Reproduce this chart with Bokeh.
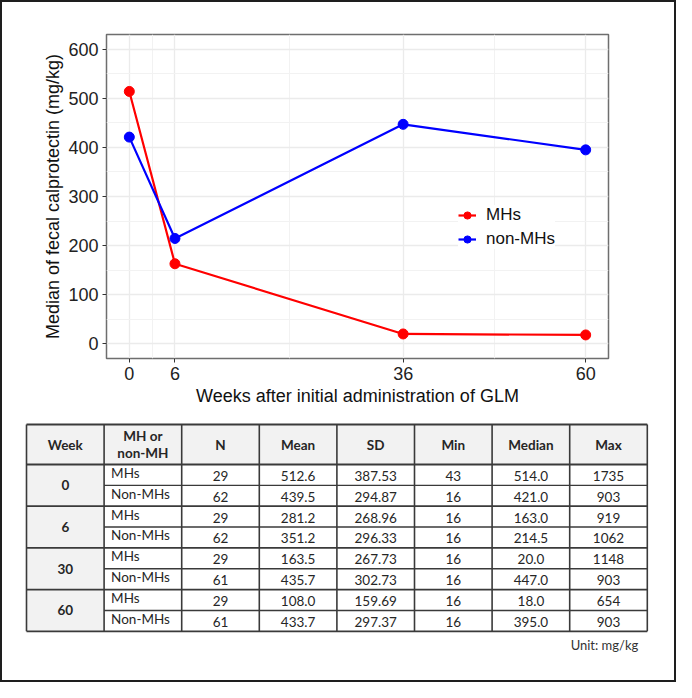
from bokeh.plotting import figure
from bokeh.models import Range1d, FixedTicker
from bokeh.layouts import column
from bokeh.core.properties import value
from bokeh.embed import file_html
from bokeh.resources import INLINE

# ---------------- data ----------------
weeks = [0, 6, 36, 60]
mh_median = [514.0, 163.0, 20.0, 18.0]
non_mh_median = [421.0, 214.5, 447.0, 395.0]
x_ticks = [0, 6, 36, 60]
y_ticks = [0, 100, 200, 300, 400, 500, 600]

table_header = ["Week", "MH or\nnon-MH", "N", "Mean", "SD", "Min", "Median", "Max"]
table_weeks = ["0", "6", "30", "60"]
table_groups = ["MHs", "Non-MHs", "MHs", "Non-MHs", "MHs", "Non-MHs", "MHs", "Non-MHs"]
n_vals = ["29", "62", "29", "62", "29", "61", "29", "61"]
mean_vals = ["512.6", "439.5", "281.2", "351.2", "163.5", "435.7", "108.0", "433.7"]
sd_vals = ["387.53", "294.87", "268.96", "296.33", "267.73", "302.73", "159.69", "297.37"]
min_vals = ["43", "16", "16", "16", "16", "16", "16", "16"]
median_vals = ["514.0", "421.0", "163.0", "214.5", "20.0", "447.0", "18.0", "395.0"]
max_vals = ["1735", "903", "919", "1062", "1148", "903", "654", "903"]
unit_note = "Unit: mg/kg"

FONT = "Liberation Sans"
TFONT = "Lato"

# ---------------- chart ----------------
p = figure(width=672, height=408, x_range=Range1d(-3, 63), y_range=Range1d(-30, 630),
           output_backend="svg", toolbar_location=None, frame_align=False,
           min_border_left=104, min_border_right=66, min_border_top=32, min_border_bottom=52)

p.xaxis.ticker = FixedTicker(ticks=x_ticks, minor_ticks=[3, 21, 48])
p.yaxis.ticker = FixedTicker(ticks=y_ticks, minor_ticks=[50, 150, 250, 350, 450, 550])
for g in (p.xgrid, p.ygrid):
    g.grid_line_color = "#ebebeb"
    g.grid_line_width = 1.3
    g.minor_grid_line_color = "#f2f2f2"
    g.minor_grid_line_width = 1.0
for ax in (p.xaxis, p.yaxis):
    ax.axis_line_color = None
    ax.major_tick_out = 4
    ax.major_tick_in = 0
    ax.minor_tick_out = 0
    ax.minor_tick_in = 0
    ax.major_tick_line_color = "#333333"
    ax.major_label_text_font = FONT
    ax.major_label_text_font_size = "18px"
    ax.major_label_text_color = "#222222"
    ax.major_label_standoff = 4
    ax.axis_label_text_font = FONT
    ax.axis_label_text_font_size = "18px"
    ax.axis_label_text_font_style = "normal"
    ax.axis_label_text_color = "#111111"
p.xaxis.axis_label = "Weeks after initial administration of GLM"
p.yaxis.axis_label = "Median of fecal calprotectin (mg/kg)"
p.xaxis.axis_label_standoff = 3
p.yaxis.axis_label_standoff = 2
p.outline_line_color = "#6e6e6e"
p.outline_line_width = 1.5

p.line(weeks, mh_median, line_color="#ff0000", line_width=2.2, legend_label="MHs")
p.scatter(weeks, mh_median, size=10, fill_color="#ff0000", line_color="#ff0000", legend_label="MHs")
p.line(weeks, non_mh_median, line_color="#0000ff", line_width=2.2, legend_label="non-MHs")
p.scatter(weeks, non_mh_median, size=10, fill_color="#0000ff", line_color="#0000ff", legend_label="non-MHs")

p.legend.location = (352, 109)
p.legend.border_line_color = None
p.legend.background_fill_color = "white"
p.legend.background_fill_alpha = 1
p.legend.padding = 9
p.legend.spacing = 4
p.legend.glyph_width = 18
p.legend.glyph_height = 20
p.legend.label_height = 20
p.legend.label_standoff = 10
p.legend.label_text_font = FONT
p.legend.label_text_font_size = "17px"
p.legend.label_text_color = "#111111"

# ---------------- table ----------------
t = figure(width=672, height=270, x_range=Range1d(10, 682), y_range=Range1d(688, 418),
           output_backend="svg", toolbar_location=None, min_border=0, frame_align=False,
           x_axis_type=None, y_axis_type=None)
t.grid.visible = False
t.outline_line_color = None

TL, CW, TT, HH, RH = 34.0, 77.6, 432.0, 40.0, 20.85
ncol = len(table_header)
nrow = len(table_groups)
TR = TL + ncol * CW
TB = TT + HH + nrow * RH

# backgrounds
t.quad(left=[TL], right=[TR], top=[TT], bottom=[TT + HH], fill_color="#f2f2f2", line_color=None)
t.quad(left=[TL], right=[TL + CW], top=[TT + HH], bottom=[TB], fill_color="#f2f2f2", line_color=None)

# grid lines
vx = [TL + i * CW for i in range(ncol + 1)]
t.segment(x0=vx, y0=[TT] * len(vx), x1=vx, y1=[TB] * len(vx), line_color="#3a3a3a", line_width=1.6)
full_y = [TT, TT + HH] + [TT + HH + 2 * k * RH for k in range(1, len(table_weeks) + 1)]
t.segment(x0=[TL] * len(full_y), y0=full_y, x1=[TR] * len(full_y), y1=full_y,
          line_color="#3a3a3a", line_width=1.8)
half_y = [TT + HH + (2 * k + 1) * RH for k in range(len(table_weeks))]
t.segment(x0=[TL + CW] * len(half_y), y0=half_y, x1=[TR] * len(half_y), y1=half_y,
          line_color="#3a3a3a", line_width=1.4)

# header text
t.text(x=[TL + (i + 0.5) * CW for i in range(ncol)], y=[TT + HH / 2] * ncol, text=table_header,
       text_font=value(TFONT), text_font_size="13.5px", text_font_style="bold",
       text_color="#262626", text_align="center", text_baseline="middle", text_line_height=1.1)

# week labels
t.text(x=[TL + 0.5 * CW] * len(table_weeks),
       y=[TT + HH + (2 * k + 1) * RH for k in range(len(table_weeks))], text=table_weeks,
       text_font=value(TFONT), text_font_size="13.5px", text_font_style="bold",
       text_color="#262626", text_align="center", text_baseline="middle")

# group labels
row_y = [TT + HH + (r + 0.5) * RH for r in range(nrow)]
t.text(x=[TL + CW + 7] * nrow, y=[yy - 2 for yy in row_y], text=table_groups,
       text_font=value(TFONT), text_font_size="13.5px",
       text_color="#262626", text_align="left", text_baseline="middle")

# numeric columns
for ci, col in enumerate([n_vals, mean_vals, sd_vals, min_vals, median_vals, max_vals]):
    cx = TL + (ci + 2.5) * CW
    t.text(x=[cx] * nrow, y=[yy + 1 for yy in row_y], text=col,
           text_font=value(TFONT), text_font_size="13.5px",
           text_color="#262626", text_align="center", text_baseline="middle")

t.text(x=[TR - 9], y=[652], text=[unit_note], text_font=value(TFONT), text_font_size="13px",
       text_color="#333333", text_align="right", text_baseline="middle")

layout = column(p, t, styles={"border": "2px solid #1e1e1e"})
open("out.html", "w").write(file_html(layout, INLINE))
